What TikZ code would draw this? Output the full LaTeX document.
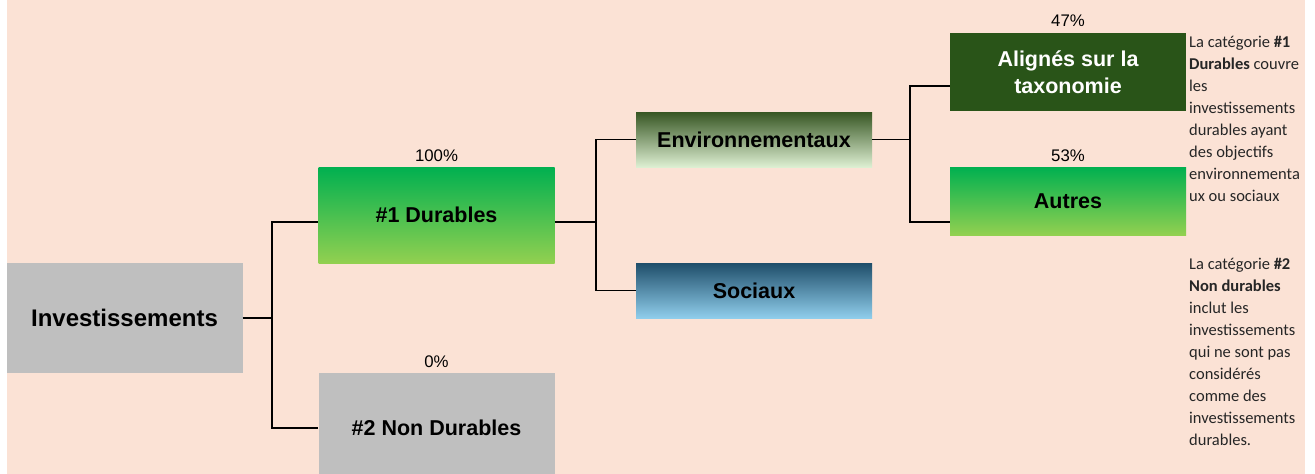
\documentclass[tikz,border=0pt]{standalone}
\usepackage{fontspec}
\setmainfont{Liberation Sans}
\newfontfamily\notefont{Carlito}
\usetikzlibrary{calc}
\usetikzlibrary{math}
\usetikzlibrary{positioning}

\begin{document}
\begin{tikzpicture}[x=1pt, y=-1pt,
    box/.style={inner sep=0pt, minimum width=236pt, align=center,
        font=\fontsize{21.5}{27}\selectfont\bfseries},
    pct/.style={inner sep=0pt, font=\fontsize{16.8}{19}\selectfont},
    note/.style={inner sep=0pt, anchor=north west, align=left, text=black!85,
        font=\notefont\fontsize{16.5}{22}\selectfont},
    link/.style={line width=1.2pt, black}
]
    \definecolor{peach}{HTML}{FBE2D5}
    \definecolor{grey}{HTML}{BFBFBF}
    \definecolor{green}{HTML}{00B050}
    \definecolor{lightgreen}{HTML}{92D050}
    \definecolor{darkgreen}{HTML}{375623}
    \definecolor{palegreen}{HTML}{DDEFD2}
    \definecolor{darkblue}{HTML}{1F4E6A}
    \definecolor{skyblue}{HTML}{8FCDEB}
    \definecolor{forest}{HTML}{295418}

    \tikzmath {
        \colA = 124.5;
        \colB = 436.5;
        \colC = 754;
        \colD = 1068;
    }

    \useasboundingbox (0,0) rectangle (1315,474);
    \fill[peach] (7,0) rectangle (1305,474);

    \node[box, fill=grey, minimum height=110pt, font=\fontsize{24}{29}\selectfont\bfseries]
        (inv) at (\colA, 318) {Investissements};

    \node[box, top color=green, bottom color=lightgreen, minimum height=96pt]
        (dur) at (\colB, 215) {\#1 Durables};
    \node[box, fill=grey, minimum height=110pt]
        (non) at (\colB, 428) {\#2 Non Durables};

    \node[box, top color=darkgreen, bottom color=palegreen, minimum height=55pt]
        (env) at (\colC, 139.5) {Environnementaux};
    \node[box, top color=darkblue, bottom color=skyblue, minimum height=55pt]
        (soc) at (\colC, 290.5) {Sociaux};

    \node[box, fill=forest, text=white, minimum height=78pt]
        (ali) at (\colD, 72) {Alignés sur la\\taxonomie};
    \node[box, top color=green, bottom color=lightgreen, minimum height=68pt]
        (aut) at (\colD, 201) {Autres};

    % percentages
    \node[pct, above=5pt of dur] (durpct) {100\%};
    \node[pct, above=5pt of non] (nonpct) {0\%};
    \node[pct, above=6pt of ali] (alipct) {47\%};
    \node[pct, above=5pt of aut] (autpct) {53\%};

    % tree lines
    \coordinate (forkA) at (272, 318);
    \coordinate (forkB) at (596, 222);
    \coordinate (forkC) at (910, 139.5);

    \draw[link] (inv.east) -- (forkA);
    \draw[link] (forkA) |- ([yshift=-7pt]dur.west);
    \draw[link] (forkA) |- (non.west);

    \draw[link] ([yshift=-7pt]dur.east) -- (forkB);
    \draw[link] (forkB) |- (env.west);
    \draw[link] (forkB) |- (soc.west);

    \draw[link] (env.east) -- (forkC);
    \draw[link] (forkC) |- ([yshift=-14pt]ali.west);
    \draw[link] (forkC) |- ([yshift=-21pt]aut.west);

    % notes
    \node[note] (noteA) at (1189, 36) {La catégorie \textbf{\#1}\\
        \textbf{Durables} couvre\\ les\\ investissements\\ durables ayant\\
        des objectifs\\ environnementa\\ ux ou sociaux};
    \node[note] (noteB) at (1189, 258) {La catégorie \textbf{\#2}\\
        \textbf{Non durables}\\ inclut les\\ investissements\\ qui ne sont pas\\
        considérés\\ comme des\\ investissements\\ durables.};
\end{tikzpicture}
\end{document}
